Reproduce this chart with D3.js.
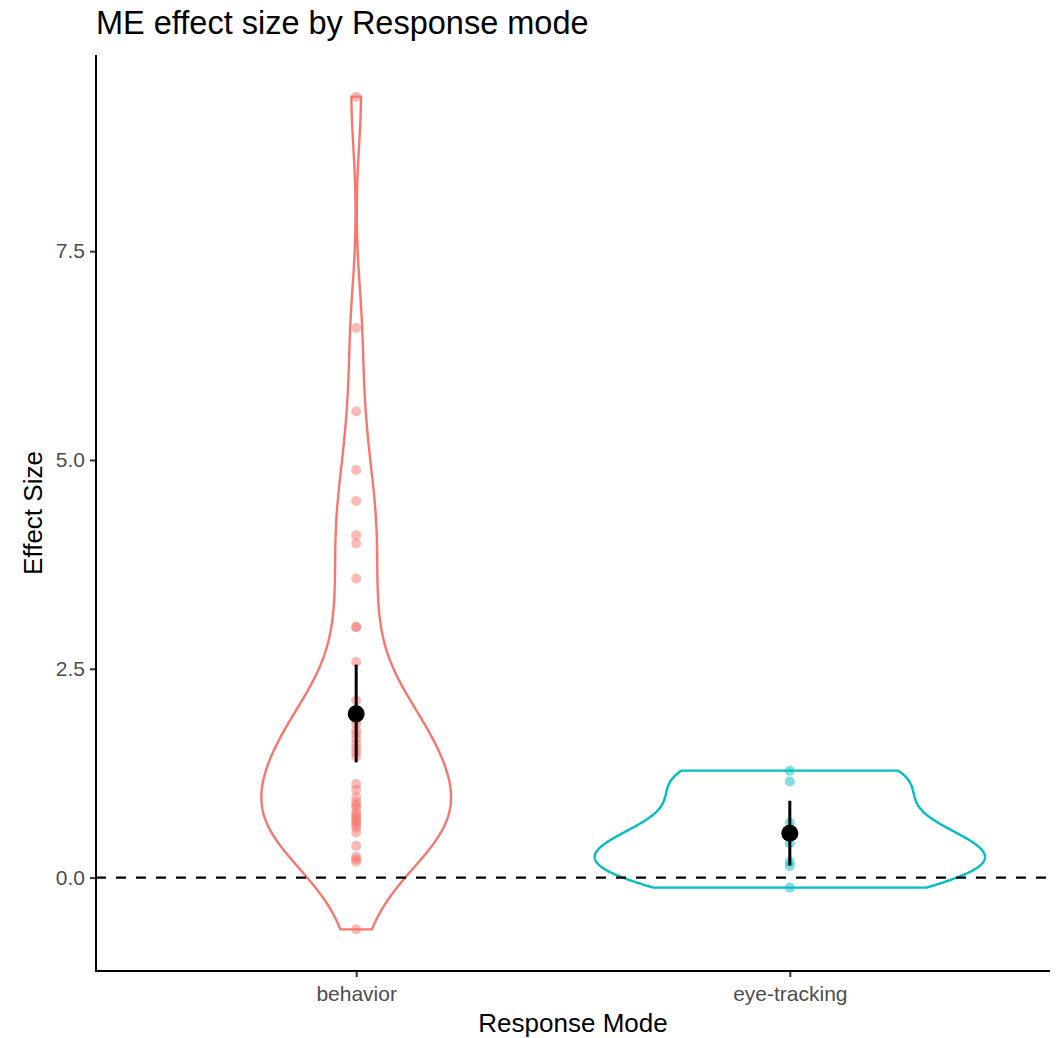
<!DOCTYPE html>
<html>
<head>
<meta charset="utf-8">
<script src="https://cdn.jsdelivr.net/npm/d3@7"></script>
<style>
  body { margin: 0; background: #fff; }
  text { font-family: "Liberation Sans", Arial, sans-serif; }
</style>
</head>
<body>
<div id="chart"></div>
<script>
// data
var groups = ["behavior", "eye-tracking"]
var colors = ["#F8766D", "#00BFC4"]
var behavior = [9.35, 6.58, 5.58, 4.88, 4.51, 4.10, 4.00, 3.58, 3.00, 3.00, 2.58,
  2.12, 1.95, 1.88, 1.84, 1.76, 1.72, 1.66, 1.60, 1.55, 1.50, 1.45,
  1.12, 1.05, 0.96, 0.90, 0.87, 0.84, 0.78, 0.75, 0.72,
  0.69, 0.66, 0.63, 0.60, 0.54, 0.38, 0.25, 0.22, 0.19, -0.62]
var eyeTracking = [1.28, 1.15, 0.66, 0.41, 0.19, 0.14, -0.12]
var means = [1.96, 0.53]
var ciLow = [1.38, 0.145]
var ciHigh = [2.55, 0.92]
var yTicks = [0, 2.5, 5, 7.5]

var width = 1059
var height = 1038
var pLeft = 96, pRight = 1050, pTop = 55, pBottom = 971

var svg = d3.select("#chart").append("svg")
  .attr("width", width)
  .attr("height", height)

var allValues = behavior.concat(eyeTracking)
var ext = d3.extent(allValues)
var pad = (ext[1] - ext[0]) * 0.05

var y = d3.scaleLinear()
  .domain([ext[0] - pad, ext[1] + pad])
  .range([pBottom, pTop])

var x = d3.scalePoint()
  .domain(groups)
  .range([pLeft, pRight])
  .padding(0.6)

// gaussian kde like R's density() with bw.nrd0, trimmed to the data range
function bwNrd0(v) {
  var s = v.slice().sort(d3.ascending)
  var hi = d3.deviation(s)
  var iqr = d3.quantileSorted(s, 0.75) - d3.quantileSorted(s, 0.25)
  var lo = Math.min(hi, iqr / 1.34)
  return 0.9 * lo * Math.pow(s.length, -0.2)
}

function kde(v) {
  var bw = bwNrd0(v)
  var e = d3.extent(v)
  var n = 512
  var out = []
  for (var i = 0; i < n; i++) {
    var t = e[0] + (e[1] - e[0]) * i / (n - 1)
    var dens = d3.sum(v, function (p) {
      var z = (t - p) / bw
      return Math.exp(-0.5 * z * z)
    }) / (v.length * bw * Math.sqrt(2 * Math.PI))
    out.push({ v: t, d: dens })
  }
  return out
}

var series = [behavior, eyeTracking]
var dens = series.map(kde)
var maxD = d3.max(dens, function (a) { return d3.max(a, function (d) { return d.d }) })
var halfW = x.step() * 0.45

// violins
dens.forEach(function (a, i) {
  var cx = x(groups[i])
  var area = d3.area()
    .y(function (d) { return y(d.v) })
    .x0(function (d) { return cx - d.d / maxD * halfW })
    .x1(function (d) { return cx + d.d / maxD * halfW })
  svg.append("path")
    .datum(a)
    .attr("d", area)
    .attr("fill", "white")
    .attr("stroke", colors[i])
    .attr("stroke-width", 2.4)
})

// raw points
series.forEach(function (v, i) {
  svg.append("g").selectAll("circle")
    .data(v)
    .join("circle")
    .attr("cx", x(groups[i]))
    .attr("cy", function (d) { return y(d) })
    .attr("r", 5)
    .attr("fill", colors[i])
    .attr("fill-opacity", 0.5)
})

// zero line
svg.append("line")
  .attr("x1", pLeft).attr("x2", pRight)
  .attr("y1", y(0)).attr("y2", y(0))
  .attr("stroke", "black")
  .attr("stroke-width", 2.2)
  .attr("stroke-dasharray", "10,10")

// mean and CI
groups.forEach(function (g, i) {
  svg.append("line")
    .attr("x1", x(g)).attr("x2", x(g))
    .attr("y1", y(ciLow[i])).attr("y2", y(ciHigh[i]))
    .attr("stroke", "black")
    .attr("stroke-width", 3)
  svg.append("circle")
    .attr("cx", x(g)).attr("cy", y(means[i]))
    .attr("r", 8.5)
    .attr("fill", "black")
})

// axes
var yAxis = svg.append("g")
  .attr("transform", "translate(" + pLeft + ",0)")
  .call(d3.axisLeft(y).tickValues(yTicks).tickFormat(d3.format(".1f")).tickSizeOuter(0).tickSize(6).tickPadding(5))
var xAxis = svg.append("g")
  .attr("transform", "translate(0," + pBottom + ")")
  .call(d3.axisBottom(x).tickSizeOuter(0).tickSize(6).tickPadding(9))

;[yAxis, xAxis].forEach(function (a) {
  a.select(".domain").remove()
  a.selectAll(".tick line").attr("stroke", "#333").attr("stroke-width", 2)
  a.selectAll(".tick text").attr("fill", "#4D4D4D").style("font-size", "21px")
    .style("font-family", "'Liberation Sans', Arial, sans-serif")
})

svg.append("line")
  .attr("x1", pLeft).attr("x2", pLeft).attr("y1", pTop).attr("y2", pBottom + 1)
  .attr("stroke", "black").attr("stroke-width", 2)
svg.append("line")
  .attr("x1", pLeft - 1).attr("x2", pRight).attr("y1", pBottom).attr("y2", pBottom)
  .attr("stroke", "black").attr("stroke-width", 2)

// titles
svg.append("text")
  .attr("x", pLeft).attr("y", 34)
  .style("font-size", "32.5px")
  .text("ME effect size by Response mode")

svg.append("text")
  .attr("x", (pLeft + pRight) / 2).attr("y", 1032)
  .attr("text-anchor", "middle")
  .style("font-size", "26px")
  .text("Response Mode")

svg.append("text")
  .attr("transform", "translate(42," + (pTop + pBottom) / 2 + ") rotate(-90)")
  .attr("text-anchor", "middle")
  .style("font-size", "26px")
  .text("Effect Size")
</script>
</body>
</html>
